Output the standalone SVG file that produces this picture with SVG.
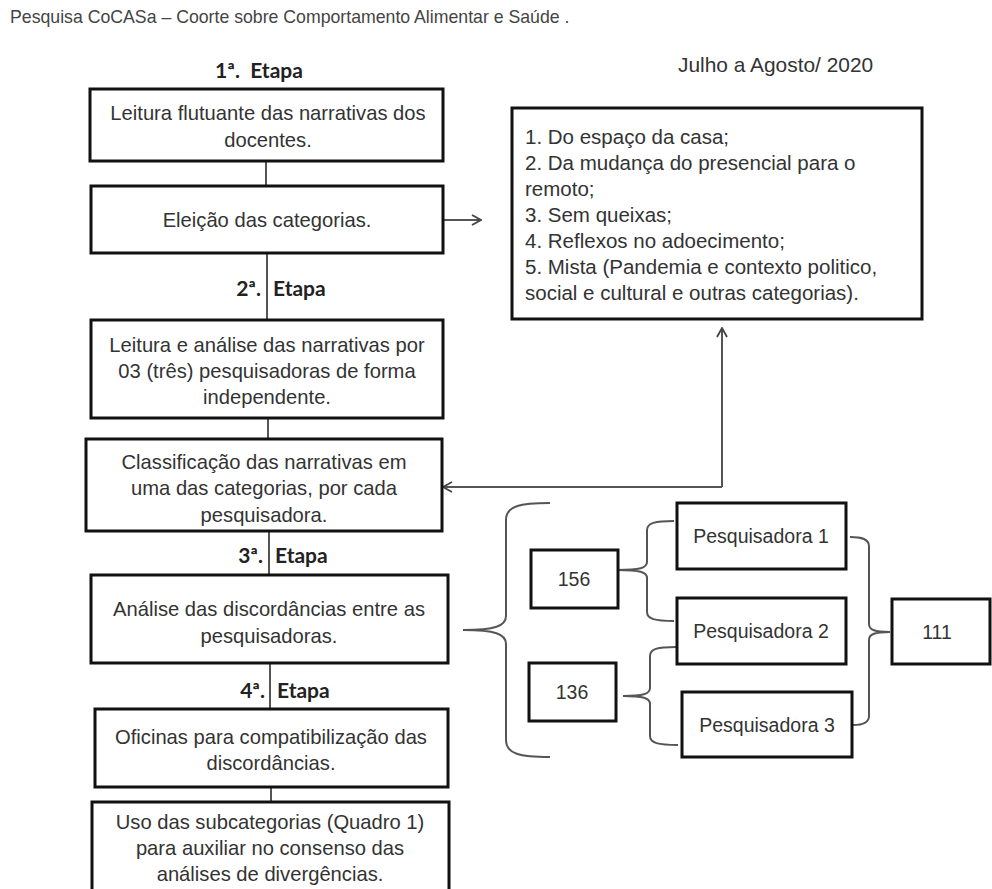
<svg xmlns="http://www.w3.org/2000/svg" width="992" height="889" viewBox="0 0 992 889">
<defs>
<style>
.bg{fill:#fff}
.box{fill:#fff;stroke:#111;stroke-width:3}
.t{font-family:"Liberation Sans",Arial,sans-serif;font-size:20.2px;fill:#333;text-anchor:middle}
.ts{font-family:"Liberation Sans",Arial,sans-serif;font-size:19.5px;fill:#333;text-anchor:middle}
.tl{font-family:"Liberation Sans",Arial,sans-serif;font-size:20.5px;fill:#333}
.title{font-family:"Liberation Sans",Arial,sans-serif;font-size:17.7px;fill:#444}
.et{font-family:Lato,"Liberation Sans",sans-serif;font-weight:bold;font-size:21px;fill:#222}
.ln{fill:none;stroke:#555;stroke-width:2}
</style>
<marker id="ah" viewBox="0 0 12 12" refX="11" refY="6" markerWidth="12" markerHeight="12" markerUnits="userSpaceOnUse" orient="auto">
<path d="M2,1 L11,6 L2,11" fill="none" stroke="#444" stroke-width="1.8"/>
</marker>
</defs>
<rect class="bg" x="0" y="0" width="992" height="889"/>
<text class="title" x="10" y="23">Pesquisa CoCASa – Coorte sobre Comportamento Alimentar e Saúde .</text>
<text class="tl" x="678" y="72" style="font-size:20.9px">Julho a Agosto/ 2020</text>

<g id="connectors">
<line class="ln" x1="266" y1="161" x2="266" y2="186"/>
<line class="ln" x1="267" y1="253" x2="267" y2="320"/>
<line class="ln" x1="268" y1="418" x2="268" y2="439"/>
<line class="ln" x1="269" y1="531" x2="269" y2="575"/>
<line class="ln" x1="270" y1="663" x2="270" y2="709"/>
<line class="ln" x1="271" y1="787" x2="271" y2="802"/>
<line class="ln" x1="443" y1="220" x2="481" y2="220" marker-end="url(#ah)"/>
<polyline class="ln" points="722,487 722,328" marker-end="url(#ah)"/>
<line class="ln" x1="722" y1="487" x2="443" y2="487" marker-end="url(#ah)"/>
<path class="ln" d="M550,503 C520,503 506,506 506,520 L506,616 C506,626 495,630 463,630 C495,630 506,634 506,644 L506,740 C506,754 520,757 550,757"/>
<path class="ln" d="M674,521 C655,521 647,523 647,530 L647,562 C647,568 640,570 617,570 C640,570 647,572 647,578 L647,612 C647,619 655,621 674,621"/>
<path class="ln" d="M676,647 C657,647 650,649 650,656 L650,688 C650,694 643,696 623,696 C643,696 650,698 650,704 L650,736 C650,743 658,745 678,745"/>
<path class="ln" d="M850,537 C862,537 869,539 869,546 L869,624 C869,630 875,632 890,632 C875,632 869,634 869,640 L869,716 C869,723 862,725 853,725"/>
</g>

<g id="etapa1"><text class="et" x="259" y="78" text-anchor="middle">1ª.&#160; Etapa</text></g>
<g id="etapa2"><text class="et" x="261" y="296" text-anchor="end">2ª.</text><text class="et" x="273" y="296">Etapa</text></g>
<g id="etapa3"><text class="et" x="263" y="563" text-anchor="end">3ª.</text><text class="et" x="275" y="563">Etapa</text></g>
<g id="etapa4"><text class="et" x="265" y="698" text-anchor="end">4ª.</text><text class="et" x="277" y="698">Etapa</text></g>

<g id="n1">
<rect class="box" x="90" y="89" width="353" height="72"/>
<text class="t" x="268" y="120">Leitura flutuante das narrativas dos</text>
<text class="t" x="268" y="147">docentes.</text>
</g>
<g id="n2">
<rect class="box" x="91" y="186" width="352" height="67"/>
<text class="t" x="267" y="227">Eleição das categorias.</text>
</g>
<g id="n3">
<rect class="box" x="91" y="320" width="352" height="98"/>
<text class="t" x="267" y="352">Leitura e análise das narrativas por</text>
<text class="t" x="267" y="378">03 (três) pesquisadoras de forma</text>
<text class="t" x="267" y="404">independente.</text>
</g>
<g id="n4">
<rect class="box" x="86" y="439" width="356" height="92"/>
<text class="t" x="264" y="469">Classificação das narrativas em</text>
<text class="t" x="264" y="495">uma das categorias, por cada</text>
<text class="t" x="264" y="522">pesquisadora.</text>
</g>
<g id="n5">
<rect class="box" x="91" y="575" width="357" height="88"/>
<text class="t" x="269" y="616">Análise das discordâncias entre as</text>
<text class="t" x="269" y="643">pesquisadoras.</text>
</g>
<g id="n6">
<rect class="box" x="95" y="709" width="353" height="78"/>
<text class="t" x="271" y="744">Oficinas para compatibilização das</text>
<text class="t" x="271" y="770">discordâncias.</text>
</g>
<g id="n7">
<rect class="box" x="92" y="802" width="357" height="92"/>
<text class="t" x="270" y="829">Uso das subcategorias (Quadro 1)</text>
<text class="t" x="270" y="855">para auxiliar no consenso das</text>
<text class="t" x="270" y="881">análises de divergências.</text>
</g>
<g id="categorias">
<rect class="box" x="512" y="108" width="410" height="211"/>
<text class="tl" x="525" y="144">1. Do espaço da casa;</text>
<text class="tl" x="525" y="170">2. Da mudança do presencial para o</text>
<text class="tl" x="525" y="196">remoto;</text>
<text class="tl" x="525" y="222">3. Sem queixas;</text>
<text class="tl" x="525" y="248">4. Reflexos no adoecimento;</text>
<text class="tl" x="525" y="274">5. Mista (Pandemia e contexto politico,</text>
<text class="tl" x="525" y="300">social e cultural e outras categorias).</text>
</g>
<g id="n156"><rect class="box" x="531" y="550" width="87" height="58"/><text class="ts" x="574" y="586">156</text></g>
<g id="n136"><rect class="box" x="529" y="663" width="87" height="58"/><text class="ts" x="572" y="699">136</text></g>
<g id="p1"><rect class="box" x="677" y="503" width="169" height="66"/><text class="ts" x="761" y="543">Pesquisadora 1</text></g>
<g id="p2"><rect class="box" x="677" y="598" width="169" height="66"/><text class="ts" x="761" y="638">Pesquisadora 2</text></g>
<g id="p3"><rect class="box" x="682" y="692" width="170" height="65"/><text class="ts" x="767" y="732">Pesquisadora 3</text></g>
<g id="n111"><rect class="box" x="892" y="599" width="98" height="65"/><text class="ts" x="937" y="639">111</text></g>
</svg>
